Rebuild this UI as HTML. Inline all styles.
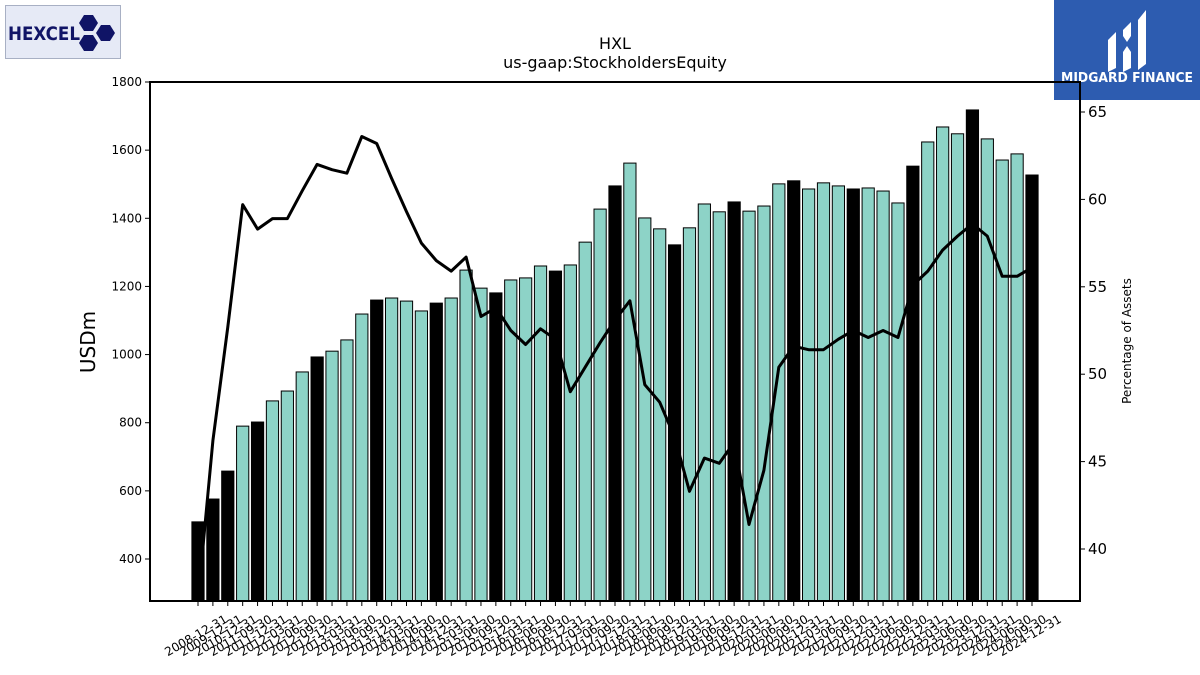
<!DOCTYPE html>
<html><head><meta charset="utf-8"><style>
html,body{margin:0;padding:0;background:#fff;overflow:hidden;width:1200px;height:675px;}
svg{display:block;}
svg text{font-family:"DejaVu Sans","Liberation Sans",sans-serif;}
</style></head><body>
<svg id="chart" width="1200" height="675" viewBox="0 0 1200 675" xmlns="http://www.w3.org/2000/svg">
<defs><clipPath id="pc"><rect x="150" y="82" width="930" height="519"/></clipPath></defs>
<g>
<rect x="5.5" y="5.5" width="115" height="53" fill="#e6eaf6" stroke="#a8b0c4"/>
<text x="8" y="40" font-size="19" font-weight="bold" fill="#101466" font-family="Liberation Sans,sans-serif" textLength="72" lengthAdjust="spacingAndGlyphs">HEXCEL</text>
<polygon points="84,15 93,15 98,23 93,31 84,31 79,23" fill="#101466"/>
<polygon points="84,35 93,35 98,43 93,51 84,51 79,43" fill="#101466"/>
<polygon points="101,25 110,25 115,33 110,41 101,41 96,33" fill="#101466"/>
</g>
<g>
<rect x="1054" y="0" width="146" height="100" fill="#2d5cb0"/>
<path d="M1108 40 l8 -8 v36 l-8 4z M1123 30 l8 -8 v14 l-4 6 l-4 -6z M1123 52 l4 -6 l4 6 v16 l-8 4z M1138 20 l8 -10 v54 l-8 6z" fill="#fff"/>
<text x="1127" y="82" font-size="13" font-weight="bold" fill="#fff" text-anchor="middle" font-family="Liberation Sans,sans-serif" textLength="132" lengthAdjust="spacingAndGlyphs">MIDGARD FINANCE</text>
</g>
<text x="615" y="49" font-size="16" text-anchor="middle">HXL</text>
<text x="615" y="68" font-size="16" text-anchor="middle">us-gaap:StockholdersEquity</text>
<g id="plot"></g>
<text x="0" y="0" font-size="20" text-anchor="middle" transform="translate(95,342) rotate(-90)">USDm</text>
<text x="0" y="0" font-size="12" text-anchor="middle" transform="translate(1131,341) rotate(-90)">Percentage of Assets</text>
</svg>
<script>
const categories=["2008-12-31","2009-12-31","2010-12-31","2011-09-30","2011-12-31","2012-03-31","2012-06-30","2012-09-30","2012-12-31","2013-03-31","2013-06-30","2013-09-30","2013-12-31","2014-03-31","2014-06-30","2014-09-30","2014-12-31","2015-03-31","2015-06-30","2015-09-30","2015-12-31","2016-03-31","2016-06-30","2016-09-30","2016-12-31","2017-03-31","2017-06-30","2017-09-30","2017-12-31","2018-03-31","2018-06-30","2018-09-30","2018-12-31","2019-03-31","2019-06-30","2019-09-30","2019-12-31","2020-03-31","2020-06-30","2020-09-30","2020-12-31","2021-03-31","2021-06-30","2021-09-30","2021-12-31","2022-03-31","2022-06-30","2022-09-30","2022-12-31","2023-03-31","2023-06-30","2023-09-30","2023-12-31","2024-03-31","2024-06-30","2024-09-30","2024-12-31"];
const equity=[509,576,658,790,802,864,893,949,993,1010,1043,1119,1160,1166,1157,1128,1151,1166,1248,1195,1181,1219,1225,1260,1245,1263,1330,1427,1495,1562,1401,1369,1322,1372,1442,1419,1448,1421,1436,1501,1510,1486,1504,1495,1486,1489,1480,1445,1553,1624,1668,1648,1718,1633,1571,1589,1527];
const pctAssets=[37.1,46.2,52.7,59.7,58.3,58.9,58.9,60.5,62.0,61.7,61.5,63.6,63.2,61.2,59.3,57.5,56.5,55.9,56.7,53.3,53.8,52.5,51.7,52.6,52.0,49.0,50.4,51.8,53.1,54.2,49.4,48.4,46.4,43.3,45.2,44.9,46.1,41.4,44.5,50.4,51.6,51.4,51.4,52.0,52.5,52.1,52.5,52.1,55.1,55.9,57.1,57.9,58.6,57.9,55.6,55.6,56.1];
const yTicks=[400,600,800,1000,1200,1400,1600,1800];
const y2Ticks=[40,45,50,55,60,65];

const NS="http://www.w3.org/2000/svg";
const L=150,R=1080,T=82,B=601;
const ppu=(477/7)/200;
function yS(v){return 559-(v-400)*ppu;}
function y2S(v){return 112+(65-v)*(437/25);}
function xS(i){return 198+i*(1032-198)/(categories.length-1);}
const g=document.getElementById('plot');
function mk(t,a){const e=document.createElementNS(NS,t);for(const k in a)e.setAttribute(k,a[k]);g.appendChild(e);return e;}
const step=(1032-198)/(categories.length-1), bw=step*0.82;
categories.forEach((c,i)=>{
  const annual=c.endsWith("12-31");
  const r=mk('rect',{x:xS(i)-bw/2,y:yS(equity[i]),width:bw,height:B-yS(equity[i]),fill:annual?'#000':'#8dd3c7',stroke:'#000','stroke-width':1});
  
  
  const tk=mk('line',{x1:xS(i),x2:xS(i),y1:B,y2:B+5,stroke:'#000'});
  
  
  const t=mk('text',{x:0,y:0,'font-size':12,'text-anchor':'middle',transform:`translate(${xS(i)},${B+38}) rotate(-30)`});
  t.textContent=c;
  
  
});
let d="";
pctAssets.forEach((v,i)=>{if(v===null)return;d+=(d?"L":"M")+xS(i).toFixed(1)+" "+y2S(v).toFixed(1);});
const ln=mk('path',{d:d,fill:'none',stroke:'#000','stroke-width':3,'stroke-linejoin':'round','clip-path':'url(#pc)'});


const fr=mk('rect',{x:L,y:T,width:R-L,height:B-T,fill:'none',stroke:'#000','stroke-width':2});


yTicks.forEach(v=>{
  const tl=mk('line',{x1:L-5,x2:L,y1:yS(v),y2:yS(v),stroke:'#000'});
  
  
  const t=mk('text',{x:L-8,y:yS(v)+4,'font-size':12,'text-anchor':'end'});
  t.textContent=v;
  
  
});
y2Ticks.forEach(v=>{
  const tl=mk('line',{x1:R,x2:R+5,y1:y2S(v),y2:y2S(v),stroke:'#000'});
  
  
  const t=mk('text',{x:R+8,y:y2S(v)+5,'font-size':15});
  t.textContent=v;
  
  
});
</script>
</body></html>
